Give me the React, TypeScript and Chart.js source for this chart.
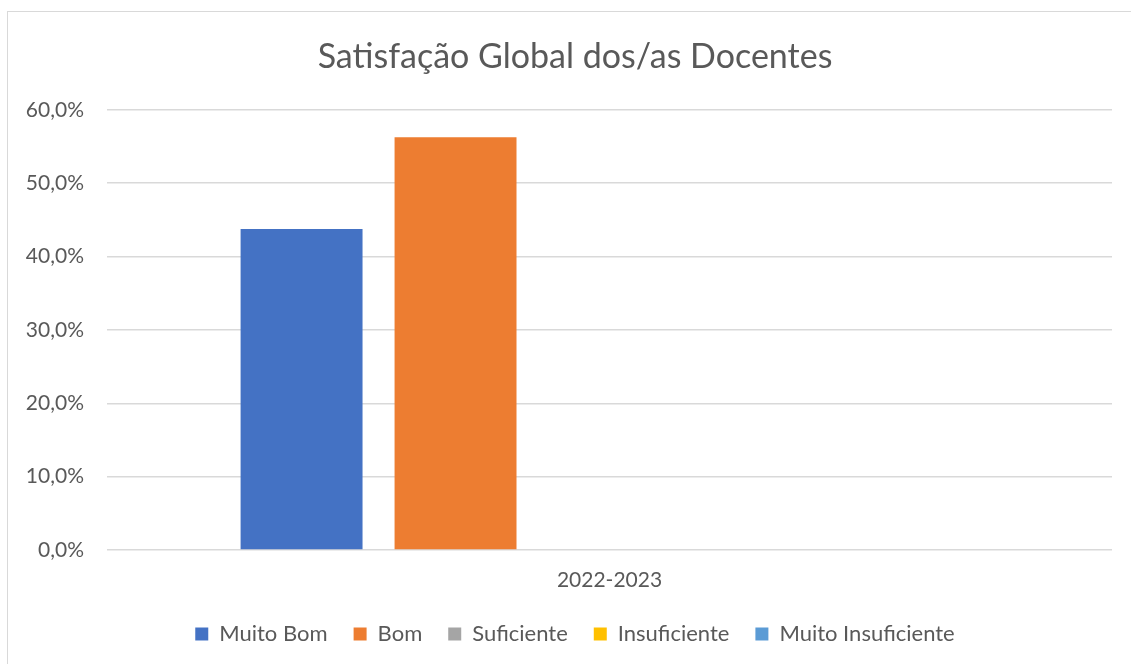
import React, { useEffect, useRef } from "react";
import { Chart, registerables } from "chart.js";

Chart.register(...registerables);

const categories = ["2022-2023"];
const seriesNames = ["Muito Bom", "Bom", "Suficiente", "Insuficiente", "Muito Insuficiente"];
const seriesValues = [[43.75], [56.25], [0], [0], [0]];
const seriesColors = ["#4472C4", "#ED7D31", "#A5A5A5", "#FFC000", "#5B9BD5"];
const titleText = "Satisfação Global dos/as Docentes";

const FONT = "Lato, 'Open Sans', sans-serif";
const TEXT = "#595959";

export default function App() {
  const ref = useRef<HTMLCanvasElement>(null);
  useEffect(() => {
    if (!ref.current) return;
    const chart = new Chart(ref.current, {
      type: "bar",
      data: {
        labels: categories,
        datasets: seriesNames.map((n, i) => ({
          label: n,
          data: seriesValues[i],
          backgroundColor: seriesColors[i],
          borderWidth: 0,
          categoryPercentage: 0.766,
          barPercentage: 0.792,
        })),
      },
      options: {
        responsive: false,
        animation: false,
        layout: { padding: { left: 0, right: 0, top: 0, bottom: 9 } },
        plugins: {
          tooltip: { enabled: false },
          title: {
            display: true,
            text: titleText,
            color: TEXT,
            font: { family: FONT, size: 34, weight: "normal" },
            padding: { top: 25, bottom: 32 },
          },
          legend: {
            position: "bottom",
            labels: {
              color: TEXT,
              font: { family: FONT, size: 22 },
              boxWidth: 13,
              boxHeight: 13,
              padding: 26,
            },
          },
        },
        scales: {
          x: {
            grid: { display: false },
            border: { display: false },
            afterFit: (s: any) => { s.height = 47; },
            ticks: { color: TEXT, font: { family: FONT, size: 21 }, padding: 10 },
          },
          y: {
            min: 0,
            max: 60,
            afterFit: (s: any) => { s.width = 99; },
            grid: { color: "#d9d9d9", lineWidth: 1.5, drawTicks: false },
            border: { display: false },
            ticks: {
              stepSize: 10,
              color: TEXT,
              padding: 23,
              font: { family: FONT, size: 21 },
              callback: (v: any) => Number(v).toFixed(1).replace(".", ",") + "%",
            },
          },
          y2: {
            position: "right",
            display: true,
            min: 0,
            max: 60,
            afterFit: (s: any) => { s.width = 30; },
            grid: { display: false, drawTicks: false },
            border: { display: false },
            ticks: { display: false },
          },
        },
      },
    });
    return () => chart.destroy();
  }, []);
  return (
    <div
      style={{
        position: "fixed",
        left: 7,
        top: 11,
        width: 1140,
        height: 670,
        border: "1px solid #d9d9d9",
        background: "#fff",
      }}
    >
      <canvas ref={ref} width={1134} height={652} style={{ display: "block" }} />
    </div>
  );
}
